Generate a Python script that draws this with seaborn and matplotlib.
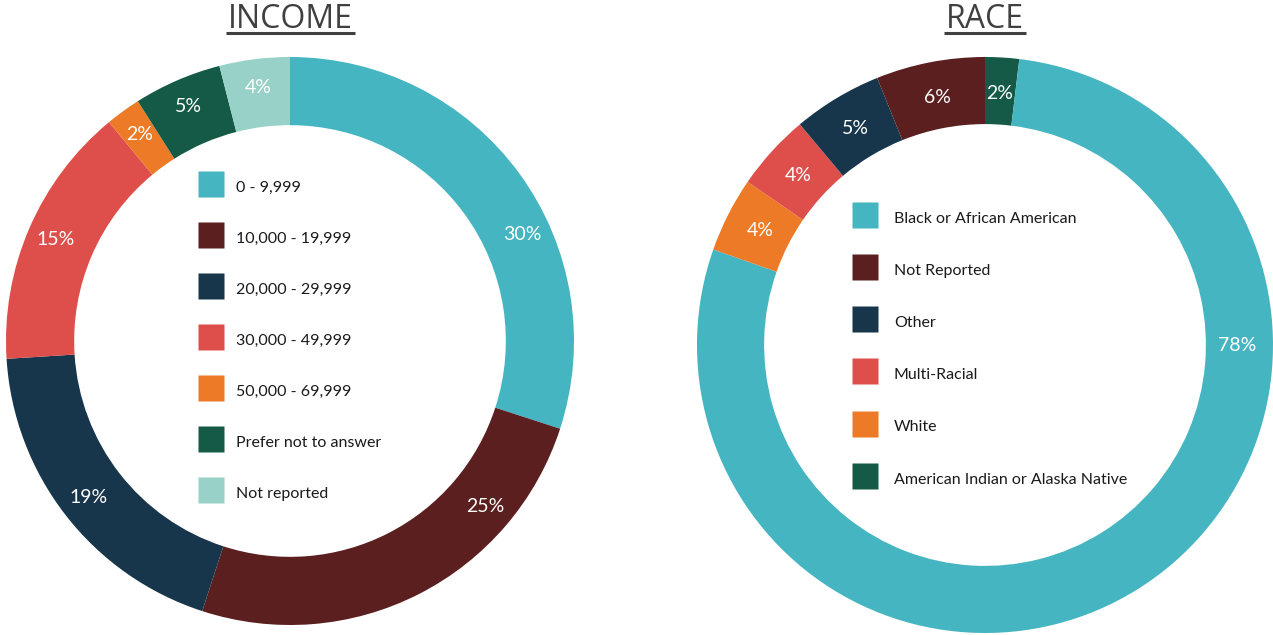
import matplotlib
matplotlib.use("Agg")
import matplotlib.pyplot as plt
from matplotlib.lines import Line2D
import numpy as np
import seaborn as sns

# ---------------- data ----------------
income_labels = ["0 - 9,999", "10,000 - 19,999", "20,000 - 29,999", "30,000 - 49,999",
                 "50,000 - 69,999", "Prefer not to answer", "Not reported"]
income_values = [30, 25, 19, 15, 2, 5, 4]
income_colors = ["#45B5C1", "#5A1F1E", "#17354B", "#DE4F4B", "#EC7A26", "#155A46", "#98D1C7"]

race_labels = ["Black or African American", "Not Reported", "Other", "Multi-Racial",
               "White", "American Indian or Alaska Native"]
race_values = [78.4, 6.1, 5.0, 4.3, 4.2, 1.9]
race_colors = ["#45B5C1", "#5A1F1E", "#17354B", "#DE4F4B", "#EC7A26", "#155A46"]
# clockwise drawing order of the race ring starting at 12 o'clock
race_order = ["American Indian or Alaska Native", "Black or African American", "White",
              "Multi-Racial", "Other", "Not Reported"]

sns.set_theme(style="white")
plt.rcParams["font.family"] = ["Lato", "DejaVu Sans"]

W, H = 1273, 635
fig = plt.figure(figsize=(W / 100, H / 100), dpi=100)
fig.patch.set_facecolor("white")

TITLE_COLOR = "#404040"
SQ = 26 * 72 / 100  # legend square size in points (26 px)
LFS = 11.5           # legend font size
ROW_H = 15.0         # effective legend row height (pt)


def px_axes(x0, y0, x1, y1):
    return fig.add_axes([x0 / W, 1 - y1 / H, (x1 - x0) / W, (y1 - y0) / H])


def donut(ax, labels, values, colors, width, label_frac, label_r):
    pal = sns.color_palette(colors)
    wedges, _ = ax.pie(values, colors=pal, startangle=90, counterclock=False,
                       radius=1.0, wedgeprops=dict(width=width, edgecolor="none",
                                                   linewidth=0))
    total = sum(values)
    for w, lab, v in zip(wedges, labels, values):
        f = label_frac.get(lab, 0.5)
        ang = np.deg2rad(w.theta2 - f * (w.theta2 - w.theta1))
        ax.text(label_r * np.cos(ang), label_r * np.sin(ang),
                f"{round(v / total * 100):.0f}%", color="white", fontsize=14,
                ha="center", va="center")
    ax.set_xlim(-1, 1)
    ax.set_ylim(-1, 1)
    ax.set_aspect("equal")
    ax.axis("off")


def square_handles(colors):
    return [Line2D([], [], marker="s", linestyle="none", markersize=SQ,
                   markerfacecolor=c, markeredgecolor="none") for c in colors]


def add_legend(colors, labels, x_px, top_px, pitch_px, textpad):
    fig.legend(square_handles(colors), labels, loc="upper left",
               bbox_to_anchor=(x_px / W, 1 - top_px / H), bbox_transform=fig.transFigure,
               frameon=False, fontsize=LFS, handlelength=SQ / LFS,
               handleheight=SQ / LFS, labelspacing=(pitch_px * 0.72 - ROW_H) / LFS,
               handletextpad=textpad, borderpad=0, borderaxespad=0,
               labelcolor="#1a1a1a")


# ---------------- income ----------------
ax1 = px_axes(6, 57, 574, 625)
donut(ax1, income_labels, income_values, income_colors, 0.24,
      {"0 - 9,999": 0.605, "10,000 - 19,999": 0.247}, 0.9)
add_legend(income_colors, income_labels, 198, 176, 51, 0.75)

# ---------------- race ----------------
ax2 = px_axes(697, 57, 1273, 633)
r_vals = [race_values[race_labels.index(k)] for k in race_order]
r_cols = [race_colors[race_labels.index(k)] for k in race_order]
donut(ax2, race_order, r_vals, r_cols, 0.233,
      {"Black or African American": 0.295}, 0.875)
add_legend(race_colors, race_labels, 852, 207, 52.2, 1.0)

# ---------------- titles (underlined) ----------------
titles = []
for txt, cx in [("INCOME", 290), ("RACE", 985)]:
    t = fig.text(cx / W, 1 - 28 / H, txt, ha="center", va="baseline",
                 fontsize=23, color=TITLE_COLOR, family=["Open Sans", "DejaVu Sans"])
    titles.append(t)

fig.canvas.draw()
renderer = fig.canvas.get_renderer()
for t in titles:
    bb = t.get_window_extent(renderer)
    y = 1 - 33 / H
    fig.add_artist(Line2D([(bb.x0 - 2) / W, (bb.x1 + 2) / W], [y, y],
                          transform=fig.transFigure, color=TITLE_COLOR,
                          linewidth=2.2, solid_capstyle="butt"))

fig.savefig("out.png", dpi=100, facecolor="white")
